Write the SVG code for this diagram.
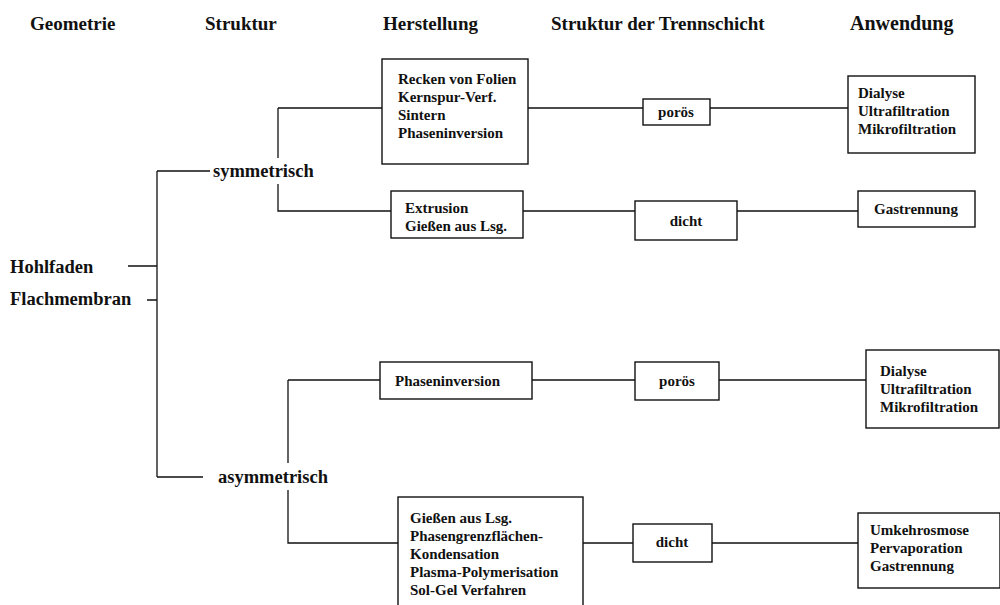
<svg xmlns="http://www.w3.org/2000/svg" width="1000" height="605" viewBox="0 0 1000 605">
<style>
text{font-family:"Liberation Serif","Times New Roman",serif;font-weight:bold;fill:#111}
.h{font-size:19px}
.l{font-size:18.5px}
.b{font-size:15px}
.c{text-anchor:middle}
rect{fill:#fff;stroke:#111;stroke-width:1.4}
#connectors path{fill:none;stroke:#111;stroke-width:1.3}
</style>
<rect x="0" y="0" width="1000" height="605" style="stroke:none"/>
<g id="headers">
<text class="h" x="30" y="30">Geometrie</text>
<text class="h" x="205" y="30">Struktur</text>
<text class="h" x="383" y="30">Herstellung</text>
<text class="h" x="551" y="30">Struktur der Trennschicht</text>
<text class="h" x="850" y="30" style="font-size:20px">Anwendung</text>
</g>
<g id="connectors">
<path d="M128 266H157M147 300H157M157 171V477M157 171H210M157 477H203"/>
<path d="M278 108V158M278 184V211H391M278 108H382"/>
<path d="M528 108H643M710 108H848"/>
<path d="M523 211H635M737 211H858"/>
<path d="M288 380V463M288 490V543H398M288 380H380"/>
<path d="M532 380H635M719 380H866"/>
<path d="M583 543H633M712 543H858"/>
</g>
<g id="hohlfaden"><text class="l" x="10" y="273">Hohlfaden</text></g>
<g id="flachmembran"><text class="l" x="10" y="305">Flachmembran</text></g>
<g id="symmetrisch"><text class="l" x="213" y="177">symmetrisch</text></g>
<g id="asymmetrisch"><text class="l" x="218" y="483">asymmetrisch</text></g>
<g id="herst1"><rect x="382" y="59" width="146" height="105"/>
<text class="b" x="398" y="84">Recken von Folien</text>
<text class="b" x="398" y="102">Kernspur-Verf.</text>
<text class="b" x="398" y="120">Sintern</text>
<text class="b" x="398" y="138">Phaseninversion</text></g>
<g id="poroes1"><rect x="643" y="99" width="67" height="26"/><text class="b c" x="676" y="117">porös</text></g>
<g id="anw1"><rect x="848" y="76" width="127" height="77"/>
<text class="b" x="858" y="98">Dialyse</text>
<text class="b" x="858" y="116">Ultrafiltration</text>
<text class="b" x="858" y="134">Mikrofiltration</text></g>
<g id="herst2"><rect x="391" y="191" width="132" height="47"/>
<text class="b" x="405" y="213">Extrusion</text>
<text class="b" x="405" y="231">Gießen aus Lsg.</text></g>
<g id="dicht1"><rect x="635" y="201" width="102" height="39"/><text class="b c" x="686" y="226">dicht</text></g>
<g id="anw2"><rect x="858" y="191" width="117" height="36"/><text class="b c" x="916" y="214">Gastrennung</text></g>
<g id="herst3"><rect x="380" y="362" width="152" height="37"/><text class="b" x="395" y="386">Phaseninversion</text></g>
<g id="poroes2"><rect x="635" y="362" width="84" height="38"/><text class="b c" x="677" y="386">porös</text></g>
<g id="anw3"><rect x="866" y="350" width="133" height="78"/>
<text class="b" x="880" y="376">Dialyse</text>
<text class="b" x="880" y="394">Ultrafiltration</text>
<text class="b" x="880" y="412">Mikrofiltration</text></g>
<g id="herst4"><rect x="398" y="497" width="185" height="120"/>
<text class="b" x="410" y="523">Gießen aus Lsg.</text>
<text class="b" x="410" y="541">Phasengrenzflächen-</text>
<text class="b" x="410" y="559">Kondensation</text>
<text class="b" x="410" y="577">Plasma-Polymerisation</text>
<text class="b" x="410" y="595">Sol-Gel Verfahren</text></g>
<g id="dicht2"><rect x="633" y="524" width="79" height="38"/><text class="b c" x="672" y="547">dicht</text></g>
<g id="anw4"><rect x="858" y="513" width="142" height="75"/>
<text class="b" x="870" y="535">Umkehrosmose</text>
<text class="b" x="870" y="553">Pervaporation</text>
<text class="b" x="870" y="571">Gastrennung</text></g>
</svg>
